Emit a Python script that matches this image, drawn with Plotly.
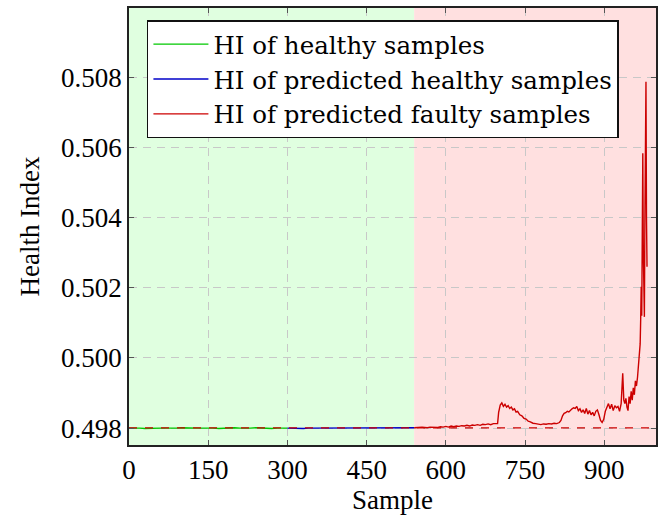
import plotly.graph_objects as go

# Health index of healthy samples (training range)
healthy_x = list(range(0, 301, 10))
healthy_hi = [0.49800, 0.49801, 0.49800, 0.49799, 0.49800, 0.49801, 0.49800, 0.49800,
              0.49799, 0.49800, 0.49801, 0.49800, 0.49799, 0.49800, 0.49800, 0.49801,
              0.49800, 0.49799, 0.49800, 0.49800, 0.49801, 0.49800, 0.49799, 0.49800,
              0.49801, 0.49800, 0.49800, 0.49799, 0.49800, 0.49801, 0.49800]

# Health index of samples predicted as healthy
pred_healthy_x = list(range(300, 541, 10))
pred_healthy_hi = [0.49800, 0.49799, 0.49800, 0.49799, 0.49800, 0.49800, 0.49799, 0.49800,
                   0.49799, 0.49800, 0.49801, 0.49799, 0.49800, 0.49799, 0.49800, 0.49800,
                   0.49799, 0.49800, 0.49800, 0.49799, 0.49800, 0.49800, 0.49801, 0.49800,
                   0.49801]

# Health index of samples predicted as faulty
faulty_x = [540, 545, 550, 555, 560, 565, 570, 575, 580, 585, 590, 595, 600, 605, 610, 615,
            620, 625, 630, 635, 640, 645, 650, 655, 660, 665, 670, 675, 680, 685, 690, 695, 698,
            700, 703, 706, 709, 712, 715, 718, 721, 724, 727, 730, 733, 736, 740, 744, 748,
            752, 756, 760, 765, 770, 775, 780, 785, 790, 795, 800, 805, 810, 815, 818, 821,
            824, 827, 830, 833, 836, 839, 842, 845, 848, 851, 854, 857, 860, 863, 866, 869,
            872, 875, 878, 881, 884, 887, 890, 893, 896, 899, 902, 905, 908, 911, 914, 917,
            920, 923, 926, 929, 932, 935, 937, 939, 941, 943, 945, 947, 949, 951, 953, 955,
            957, 959, 961, 963, 965, 967, 968, 969, 970, 971, 972, 973, 974, 975, 976, 977,
            978, 979, 980, 981]
faulty_hi = [0.49801, 0.49802, 0.49801, 0.49803, 0.49802, 0.49801, 0.49803, 0.49802, 0.49803,
             0.49802, 0.49804, 0.49803, 0.49805, 0.49803, 0.49806, 0.49804, 0.49806, 0.49805,
             0.49807, 0.49806, 0.49808, 0.49806, 0.49809, 0.49808, 0.49810, 0.49808, 0.49811,
             0.49810, 0.49812, 0.49810, 0.49813, 0.49812, 0.49813,
             0.49845, 0.49866, 0.49872, 0.49862, 0.49868, 0.49860, 0.49864, 0.49856, 0.49860,
             0.49852, 0.49855, 0.49846, 0.49848, 0.49838, 0.49835, 0.49828,
             0.49826, 0.49820, 0.49818, 0.49814, 0.49813, 0.49812, 0.49810, 0.49812, 0.49811,
             0.49813, 0.49812, 0.49814, 0.49813, 0.49816, 0.49822, 0.49835,
             0.49842, 0.49844, 0.49848, 0.49846, 0.49852, 0.49855, 0.49858, 0.49856, 0.49862,
             0.49850, 0.49855, 0.49845, 0.49852, 0.49842, 0.49856, 0.49840,
             0.49850, 0.49838, 0.49845, 0.49835, 0.49848, 0.49852, 0.49838, 0.49822, 0.49816,
             0.49825, 0.49848, 0.49860, 0.49870, 0.49855, 0.49868, 0.49850,
             0.49864, 0.49858, 0.49862, 0.49848, 0.49870, 0.49956, 0.49880, 0.49870, 0.49885,
             0.49860, 0.49850, 0.49890, 0.49870, 0.49905, 0.49880, 0.49915,
             0.49895, 0.49935, 0.49920, 0.49945, 0.49990, 0.50014, 0.50040, 0.50110, 0.50203,
             0.50120, 0.50350, 0.50583, 0.50300, 0.50200, 0.50117, 0.50400,
             0.50650, 0.50787, 0.50400, 0.50260]

threshold = 0.49801
healthy_region = (0, 540)
faulty_region = (540, 998)
x_ticks = [0, 150, 300, 450, 600, 750, 900]
y_ticks = [0.498, 0.500, 0.502, 0.504, 0.506, 0.508]

FONT = "Liberation Serif"
LEGEND_FONT = "DejaVu Serif"
GREEN = "#00c800"
BLUE = "#0000c8"
RED = "#cc0000"
INK = "#000000"

fig = go.Figure()
fig.add_trace(go.Scatter(x=healthy_x, y=healthy_hi, mode="lines",
                         line=dict(color=GREEN, width=1.4),
                         name="HI of healthy samples"))
fig.add_trace(go.Scatter(x=pred_healthy_x, y=pred_healthy_hi, mode="lines",
                         line=dict(color=BLUE, width=1.4),
                         name="HI of predicted healthy samples"))
fig.add_trace(go.Scatter(x=faulty_x, y=faulty_hi, mode="lines",
                         line=dict(color=RED, width=1.4),
                         name="HI of predicted faulty samples"))
# Decision threshold
fig.add_trace(go.Scatter(x=[0, faulty_region[1]], y=[threshold, threshold], mode="lines",
                         line=dict(color=RED, width=1.3, dash="8px,8px"),
                         showlegend=False, hoverinfo="skip"))

fig.add_vrect(x0=healthy_region[0], x1=healthy_region[1], fillcolor="#e0ffe0",
              line_width=0, layer="below")
fig.add_vrect(x0=faulty_region[0], x1=faulty_region[1], fillcolor="#ffe0e0",
              line_width=0, layer="below")

axis_common = dict(showline=True, linecolor="#222222", linewidth=1.5, mirror="ticks",
                   ticks="inside", ticklen=5, tickcolor="#555555",
                   showgrid=True, gridcolor="#c8c8c8", griddash="8px,6px", gridwidth=1,
                   zeroline=False, automargin=False,
                   tickfont=dict(family=FONT, size=27, color=INK),
                   title_font=dict(family=FONT, size=27, color=INK))

fig.update_xaxes(range=[0, 998], tickvals=x_ticks, title_text="Sample",
                 title_standoff=5, **axis_common)
fig.update_yaxes(range=[0.49752, 0.50997], tickvals=y_ticks, tickformat=".3f",
                 title_text="Health Index", title_standoff=14, **axis_common)

fig.update_layout(
    width=664, height=519,
    margin=dict(l=129, r=8, t=8, b=74),
    paper_bgcolor="white", plot_bgcolor="white",
    font=dict(family=FONT, size=27, color=INK),
    legend=dict(x=0.034, y=0.972, xanchor="left", yanchor="top",
                bgcolor="white", bordercolor="#111111", borderwidth=1.5,
                font=dict(family=LEGEND_FONT, size=24.5, color=INK),
                itemwidth=55, tracegroupgap=0),
    showlegend=True,
)

fig.write_html("out.html")
